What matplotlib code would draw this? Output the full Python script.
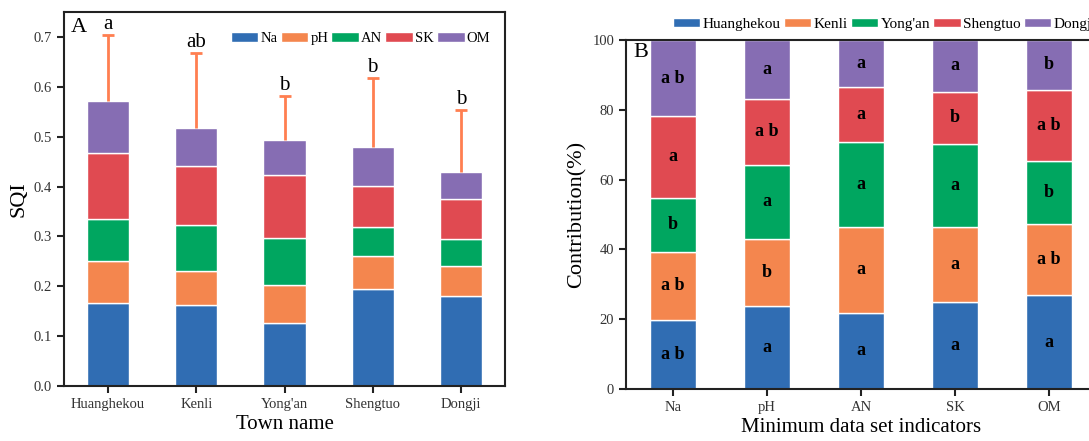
import numpy as np
import matplotlib
matplotlib.use('Agg')
import matplotlib.pyplot as plt

plt.rcParams['font.family'] = ['Liberation Serif', 'DejaVu Serif']

towns = ['Huanghekou', 'Kenli', "Yong'an", 'Shengtuo', 'Dongji']
indicators = ['Na', 'pH', 'AN', 'SK', 'OM']
colors = ['#306db3', '#f4864e', '#00a660', '#e04a51', '#866db3']

# panel A: SQI contribution of each indicator per town
sqi_na = [0.166, 0.162, 0.127, 0.194, 0.181]
sqi_ph = [0.085, 0.068, 0.075, 0.067, 0.060]
sqi_an = [0.084, 0.093, 0.094, 0.058, 0.053]
sqi_sk = [0.133, 0.118, 0.128, 0.082, 0.080]
sqi_om = [0.104, 0.077, 0.069, 0.079, 0.055]
sqi_err = [0.131, 0.150, 0.089, 0.137, 0.124]
sqi_letters = ['a', 'ab', 'b', 'b', 'b']

# panel B: contribution (%) of each town per indicator
pct_huanghekou = [19.8, 23.9, 21.9, 24.8, 26.9]
pct_kenli = [19.5, 19.1, 24.5, 21.6, 20.4]
pct_yongan = [15.5, 21.3, 24.3, 23.9, 17.9]
pct_shengtuo = [23.4, 18.8, 15.7, 14.9, 20.6]
pct_dongji = [21.8, 16.9, 13.6, 14.8, 14.2]
pct_letters = [
    ['ab', 'a', 'a', 'a', 'a'],      # Huanghekou
    ['ab', 'b', 'a', 'a', 'ab'],     # Kenli
    ['b', 'a', 'a', 'a', 'b'],       # Yong'an
    ['a', 'ab', 'a', 'b', 'ab'],     # Shengtuo
    ['ab', 'a', 'a', 'a', 'b'],      # Dongji
]

W, H = 1089, 441
fig = plt.figure(figsize=(W / 100, H / 100), dpi=100)


def px_axes(l, t, r, b):
    return fig.add_axes([l / W, (H - b) / H, (r - l) / W, (b - t) / H])


def style(ax):
    for s in ax.spines.values():
        s.set_linewidth(1.5)
        s.set_color('#222222')
    ax.tick_params(direction='out', length=5, width=1.5, color='#222222',
                   labelsize=10.5, labelcolor='#333333')


# ---- panel A ----
ax1 = px_axes(64, 12, 505, 386)
x = np.arange(len(towns))
bottom = np.zeros(len(towns))
for name, vals, c in zip(indicators, [sqi_na, sqi_ph, sqi_an, sqi_sk, sqi_om], colors):
    ax1.bar(x, vals, 0.48, bottom=bottom, color=c, edgecolor='white',
            linewidth=1, label=name, zorder=2)
    bottom += np.array(vals)

eb = ax1.errorbar(x, bottom, yerr=[np.zeros(len(x)), sqi_err], fmt='none',
                  ecolor='#ff7f50', elinewidth=2, capsize=4, capthick=2, zorder=3)
eb[1][0].set_visible(False)
for xi, top, e, lt in zip(x, bottom, sqi_err, sqi_letters):
    ax1.text(xi, top + e + 0.002, lt, ha='center', va='bottom', fontsize=15)

ax1.set_xlim(-0.5, 4.5)
ax1.set_ylim(0, 0.75)
ax1.set_yticks(np.arange(0, 0.71, 0.1))
ax1.set_yticklabels([f'{v:.1f}' for v in np.arange(0, 0.71, 0.1)])
ax1.set_xticks(x)
ax1.set_xticklabels(towns)
ax1.set_xlabel('Town name', fontsize=15, labelpad=3)
ax1.set_ylabel('SQI', fontsize=16, labelpad=4)
ax1.text(0.015, 0.985, 'A', transform=ax1.transAxes, ha='left', va='top', fontsize=16)
style(ax1)
ax1.legend(loc='upper right', ncol=5, frameon=False, fontsize=10.5,
           handlelength=1.9, handleheight=0.6, handletextpad=0.15,
           columnspacing=0.2, borderaxespad=0.6, bbox_to_anchor=(1.0, 0.985))

# ---- panel B ----
ax2 = px_axes(626, 40, 1096, 389)
x2 = np.arange(len(indicators))
bottom = np.zeros(len(indicators))
series = [pct_huanghekou, pct_kenli, pct_yongan, pct_shengtuo, pct_dongji]
for name, vals, c, lts in zip(towns, series, colors, pct_letters):
    vals = np.array(vals)
    ax2.bar(x2, vals, 0.48, bottom=bottom, color=c, edgecolor='white',
            linewidth=1, label=name, zorder=2)
    for xi, b0, v, lt in zip(x2, bottom, vals, lts):
        ax2.text(xi, b0 + v / 2, ' '.join(lt) if len(lt) > 1 else lt,
                 ha='center', va='center', fontsize=13, fontweight='bold')
    bottom += vals

ax2.set_xlim(-0.5, 4.5)
ax2.set_ylim(0, 100)
ax2.set_yticks(range(0, 101, 20))
ax2.set_xticks(x2)
ax2.set_xticklabels(indicators)
ax2.set_xlabel('Minimum data set indicators', fontsize=15, labelpad=3)
ax2.set_ylabel('Contribution(%)', fontsize=16, labelpad=4)
ax2.text(0.015, 0.99, 'B', transform=ax2.transAxes, ha='left', va='top', fontsize=16)
style(ax2)
ax2.legend(loc='lower left', ncol=5, frameon=False, fontsize=11,
           handlelength=1.8, handleheight=0.6, handletextpad=0.15,
           columnspacing=0.2, borderaxespad=0.2, bbox_to_anchor=(0.08, 1.0))

fig.savefig('out.png', dpi=100)
